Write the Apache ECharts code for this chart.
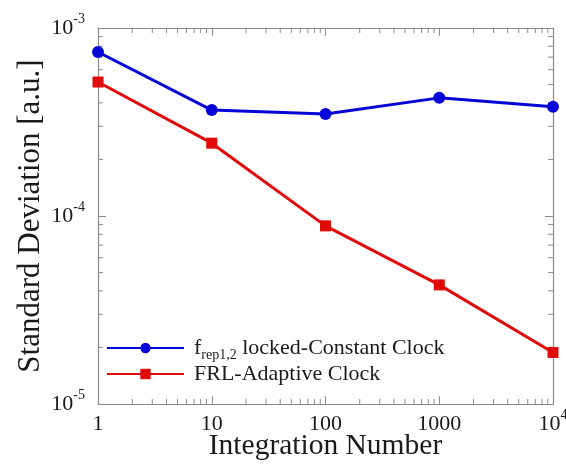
<!DOCTYPE html>
<html>
<head>
<meta charset="utf-8">
<script src="https://cdn.jsdelivr.net/npm/echarts@6/dist/echarts.min.js"></script>
<style>
  html, body { margin: 0; padding: 0; background: #fff; }
  #chart { width: 566px; height: 464px; }
</style>
</head>
<body>
<div id="chart"></div>
<script>
// Integration numbers (x) and measured standard deviations (y)
const integrationNumbers = [1, 10, 100, 1000, 10000];
const constantClockStd = [7.45e-4, 3.66e-4, 3.49e-4, 4.25e-4, 3.81e-4];
const adaptiveClockStd = [5.16e-4, 2.44e-4, 8.86e-5, 4.30e-5, 1.88e-5];

const seriesNames = ['constant', 'adaptive'];
const xTickLabels = { 1: '1', 10: '10', 100: '100', 1000: '1000', 10000: '10^4' };

const X_MIN = 1, X_MAX = 10000, Y_MIN = 1e-5, Y_MAX = 1e-3;
const FONT = '"Liberation Serif", "Times New Roman", serif';
const AXIS_GREY = '#8a8a8a';
const TEXT = '#1a1a1a';

// minor tick positions (2..9 x 10^k) for each log axis
function minorTicks(lo, hi) {
  const out = [];
  for (let d = lo; d < hi; d *= 10) {
    for (let m = 2; m <= 9; m++) out.push(+(m * d).toPrecision(6));
  }
  return out;
}
const xMinor = minorTicks(X_MIN, X_MAX);
const yMinor = minorTicks(Y_MIN, Y_MAX);

const chart = echarts.init(document.getElementById('chart'), null, { renderer: 'canvas' });

const baseAxis = {
  type: 'log',
  logBase: 10,
  axisLine: { show: true, lineStyle: { color: AXIS_GREY, width: 1.2 } },
  axisTick: { show: true, inside: true, length: 8, lineStyle: { color: AXIS_GREY, width: 1 } },
  splitLine: { show: false },
  minorTick: { show: false },
  minorSplitLine: { show: false }
};

const tickRich = {
  n: { fontFamily: FONT, fontSize: 22, color: TEXT, lineHeight: 22 },
  sup: { fontFamily: FONT, fontSize: 14, color: TEXT, lineHeight: 14, padding: [0, 0, 13, 0], verticalAlign: 'bottom' }
};

function makeTickMarks(kind) {
  return {
    type: 'custom',
    silent: true,
    z: 1,
    xAxisIndex: 0,
    yAxisIndex: 0,
    clip: false,
    data: kind === 'x' ? xMinor.map(v => [v, Y_MIN]) : yMinor.map(v => [X_MIN, v]),
    renderItem: function (params, api) {
      const len = 5;
      let a, b;
      if (kind === 'x') {
        const v = api.value(0);
        a = api.coord([v, Y_MIN]);
        b = api.coord([v, Y_MAX]);
        return {
          type: 'group',
          children: [
            { type: 'line', shape: { x1: a[0], y1: a[1], x2: a[0], y2: a[1] - len }, style: { stroke: AXIS_GREY, lineWidth: 1 } },
            { type: 'line', shape: { x1: b[0], y1: b[1], x2: b[0], y2: b[1] + len }, style: { stroke: AXIS_GREY, lineWidth: 1 } }
          ]
        };
      } else {
        const v = api.value(1);
        a = api.coord([X_MIN, v]);
        b = api.coord([X_MAX, v]);
        return {
          type: 'group',
          children: [
            { type: 'line', shape: { x1: a[0], y1: a[1], x2: a[0] + len, y2: a[1] }, style: { stroke: AXIS_GREY, lineWidth: 1 } },
            { type: 'line', shape: { x1: b[0], y1: b[1], x2: b[0] - len, y2: b[1] }, style: { stroke: AXIS_GREY, lineWidth: 1 } }
          ]
        };
      }
    },
    tooltip: { show: false }
  };
}

const option = {
  animation: false,
  backgroundColor: '#ffffff',
  textStyle: { fontFamily: FONT, color: TEXT },
  grid: { left: 98, right: 13, top: 28, bottom: 60, containLabel: false, outerBoundsMode: 'none' },
  legend: {
    orient: 'vertical',
    left: 106,
    top: 336,
    padding: 0,
    itemWidth: 77,
    itemHeight: 13,
    itemGap: 1,
    data: seriesNames,
    textStyle: {
      fontFamily: FONT,
      color: TEXT,
      fontSize: 22,
      rich: {
        n: { fontFamily: FONT, fontSize: 22, color: TEXT, lineHeight: 24 },
        p: { fontFamily: FONT, fontSize: 22, color: TEXT, lineHeight: 24, padding: [0, 0, 0, 5] },
        sub: { fontFamily: FONT, fontSize: 14, color: TEXT, lineHeight: 14, padding: [12, 0, 0, 0], verticalAlign: 'top' }
      }
    },
    formatter: function (name) {
      if (name === 'constant') return '{p|f}{sub|rep1,2}{n| locked-Constant Clock}';
      return '{p|FRL-Adaptive Clock}';
    }
  },
  xAxis: [
    Object.assign({}, baseAxis, {
      position: 'bottom',
      min: X_MIN, max: X_MAX,
      name: 'Integration Number',
      nameLocation: 'middle',
      nameGap: 27,
      nameMoveOverlap: false,
      nameTextStyle: { fontFamily: FONT, fontSize: 29.5, color: TEXT },
      axisLabel: {
        margin: 9,
        fontFamily: FONT,
        fontSize: 22,
        color: TEXT,
        formatter: function (v) {
          const t = xTickLabels[Math.round(v)];
          if (t === '10^4') return '{n|10}{sup|4}';
          return t !== undefined ? '{n|' + t + '}' : '';
        },
        rich: tickRich
      }
    }),
    Object.assign({}, baseAxis, {
      position: 'top',
      min: X_MIN, max: X_MAX,
      axisLabel: { show: false }
    })
  ],
  yAxis: [
    Object.assign({}, baseAxis, {
      position: 'left',
      min: Y_MIN, max: Y_MAX,
      name: 'Standard Deviation [a.u.]',
      nameLocation: 'middle',
      nameGap: 52,
      nameMoveOverlap: false,
      nameTextStyle: { fontFamily: FONT, fontSize: 31, color: TEXT },
      axisLabel: {
        margin: 13,
        fontFamily: FONT,
        fontSize: 22,
        color: TEXT,
        formatter: function (v) {
          const e = Math.round(Math.log10(v));
          return '{n|10}{sup|' + (e < 0 ? '-' + (-e) : e) + '}';
        },
        rich: tickRich
      }
    }),
    Object.assign({}, baseAxis, {
      position: 'right',
      min: Y_MIN, max: Y_MAX,
      axisLabel: { show: false }
    })
  ],
  series: [
    makeTickMarks('x'),
    makeTickMarks('y'),
    {
      name: 'constant',
      type: 'line',
      z: 3,
      data: integrationNumbers.map((x, i) => [x, constantClockStd[i]]),
      symbol: 'circle',
      symbolSize: 12,
      lineStyle: { color: '#0505d8', width: 3 },
      itemStyle: { color: '#0505d8' },
      clip: false
    },
    {
      name: 'adaptive',
      type: 'line',
      z: 3,
      data: integrationNumbers.map((x, i) => [x, adaptiveClockStd[i]]),
      symbol: 'rect',
      symbolSize: 11,
      lineStyle: { color: '#e00a0a', width: 3 },
      itemStyle: { color: '#e00a0a' },
      clip: false
    }
  ]
};

chart.setOption(option);
</script>
</body>
</html>
